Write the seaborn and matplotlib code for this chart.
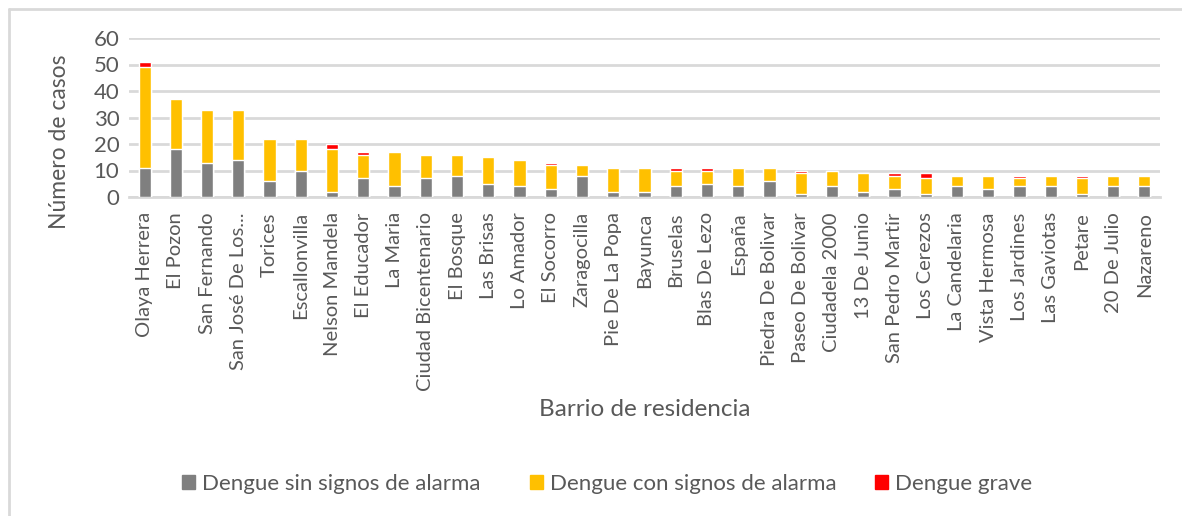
import numpy as np
import pandas as pd
import matplotlib
matplotlib.use("Agg")
import matplotlib.pyplot as plt
import matplotlib.patches as mpatches
import seaborn as sns

# ── Data ─────────────────────────────────────────────────────────────────────
barrios = [
    "Olaya Herrera", "El Pozon", "San Fernando", "San José De Los...", "Torices",
    "Escallonvilla", "Nelson Mandela", "El Educador", "La Maria", "Ciudad Bicentenario",
    "El Bosque", "Las Brisas", "Lo Amador", "El Socorro", "Zaragocilla",
    "Pie De La Popa", "Bayunca", "Bruselas", "Blas De Lezo", "España",
    "Piedra De Bolivar", "Paseo De Bolivar", "Ciudadela 2000", "13 De Junio",
    "San Pedro Martir", "Los Cerezos", "La Candelaria", "Vista Hermosa",
    "Los Jardines", "Las Gaviotas", "Petare", "20 De Julio", "Nazareno",
]
sin_signos = [11, 18, 13, 14, 6, 10, 2, 7, 4, 7, 8, 5, 4, 3, 8, 2, 2, 4, 5, 4,
              6, 1, 4, 2, 3, 1, 4, 3, 4, 4, 1, 4, 4]
con_signos = [38, 19, 20, 19, 16, 12, 16, 9, 13, 9, 8, 10, 10, 9, 4, 9, 9, 6, 5, 7,
              5, 8, 6, 7, 5, 6, 4, 5, 3, 4, 6, 4, 4]
grave = [2, 0, 0, 0, 0, 0, 2, 1, 0, 0, 0, 0, 0, 1, 0, 0, 0, 1, 1, 0,
         0, 1, 0, 0, 1, 2, 0, 0, 1, 0, 1, 0, 0]

series = ["Dengue sin signos de alarma", "Dengue con signos de alarma", "Dengue grave"]
colors = ["#7f7f7f", "#ffc000", "#ff0000"]

df = pd.DataFrame({"barrio": barrios, "sin": sin_signos, "con": con_signos, "grave": grave})
df["lvl1"] = df["sin"]
df["lvl2"] = df["sin"] + df["con"]
df["lvl3"] = df["lvl2"] + df["grave"]

TXT = "#595959"
GRID = "#d9d9d9"

sns.set_theme(style="white")
plt.rcParams["font.family"] = ["Lato", "DejaVu Sans"]

fig = plt.figure(figsize=(11.82, 5.16), dpi=100)
ax = fig.add_axes([129 / 1182, 1 - 197 / 516, (1160 - 129) / 1182, (197 - 38) / 516])

# stacked bars: draw cumulative totals from back to front
for col, c in zip(["lvl3", "lvl2", "lvl1"], colors[::-1]):
    sns.barplot(data=df, x="barrio", y=col, color=c, width=0.39,
                saturation=1, ax=ax, zorder=3)

ax.set_ylim(0, 60)
ax.set_xlim(-0.5, len(barrios) - 0.5)
ax.set_yticks(np.arange(0, 61, 10))
ax.yaxis.grid(True, color=GRID, linewidth=2, zorder=0)
ax.set_axisbelow(True)
for s in ["top", "right", "left"]:
    ax.spines[s].set_visible(False)
ax.spines["bottom"].set_color(GRID)
ax.spines["bottom"].set_linewidth(2)

ax.set_xticks(range(len(barrios)))
ax.set_xticklabels(barrios, rotation=90, fontsize=14.5, color=TXT)
ax.set_xticks(np.arange(-0.5, len(barrios), 1), minor=True)
ax.tick_params(axis="x", which="major", length=0, pad=11)
ax.tick_params(axis="x", which="minor", length=5, width=1.5, color=GRID, direction="out")
ax.tick_params(axis="y", length=0, labelsize=16, labelcolor=TXT, pad=7)
ax.set_xlabel("")
ax.set_ylabel("")

fig.text(60 / 1182, 1 - 142 / 516, "Número de casos", rotation=90,
         ha="center", va="center", fontsize=16.5, color=TXT)
fig.text(645 / 1182, 1 - 410 / 516, "Barrio de residencia",
         ha="center", va="center", fontsize=17.5, color=TXT)

# legend entries placed one by one, as in the spreadsheet legend
legend_x = [182, 530, 875]
for c, l, x in zip(colors, series, legend_x):
    fig.legend(handles=[mpatches.Patch(color=c, label=l)], loc="center left",
               bbox_to_anchor=(x / 1182, 1 - 484 / 516), frameon=False,
               fontsize=16, labelcolor=TXT, borderpad=0, borderaxespad=0,
               handlelength=0.6, handleheight=0.6, handletextpad=0.3)

# outer chart frame (only top and left visible in the reference)
fig.add_artist(plt.Line2D([9 / 1182, 1], [1 - 9 / 516, 1 - 9 / 516], color=GRID, linewidth=2))
fig.add_artist(plt.Line2D([9 / 1182, 9 / 1182], [0, 1 - 9 / 516], color=GRID, linewidth=2))

fig.savefig("out.png", dpi=100, facecolor="white")
